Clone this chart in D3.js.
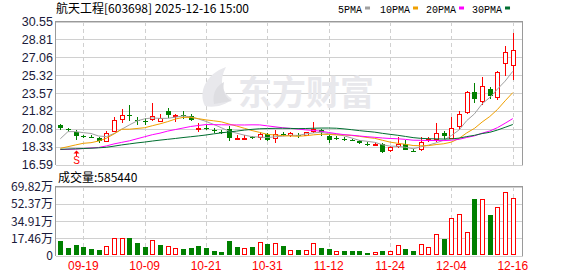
<!DOCTYPE html>
<html><head><meta charset="utf-8">
<script src="https://cdn.jsdelivr.net/npm/d3@7/dist/d3.min.js"></script>
<style>body{margin:0;background:#fff}svg{display:block}</style>
</head><body><svg id="c" width="578" height="276"></svg>
<script>
// ---------------- data ----------------
const dates = ["09-16","09-17","09-18","09-19","09-22","09-23","09-24","09-25","09-26","09-29","09-30",
  "10-09","10-10","10-13","10-14","10-15","10-16","10-17","10-20","10-21","10-22","10-23","10-24","10-27","10-28","10-29","10-30","10-31",
  "11-03","11-04","11-05","11-06","11-07","11-10","11-11","11-12","11-13","11-14","11-17","11-18","11-19","11-20","11-21","11-24","11-25","11-26","11-27","11-28",
  "12-01","12-02","12-03","12-04","12-05","12-08","12-09","12-10","12-11","12-12","12-15","12-16"];
const open  = [20.45,20.05,19.80,19.35,19.28,19.15,18.80,19.80,20.90,21.45,20.90,20.80,20.90,20.75,21.85,21.30,21.40,21.30,20.10,20.20,
  20.00,19.80,20.10,19.15,19.15,19.25,19.20,19.55,19.10,19.55,19.35,19.50,19.40,19.80,20.00,19.40,19.15,19.05,19.00,18.85,
  18.60,18.50,18.55,17.95,18.25,18.55,17.95,18.00,19.05,18.95,19.65,19.10,20.25,21.60,23.65,22.70,23.95,23.05,26.40,26.20];
const high  = [20.58,20.20,20.00,19.50,19.45,19.30,19.85,21.20,22.05,22.35,21.25,21.10,22.60,21.50,22.15,21.50,21.80,21.50,20.60,20.40,
  20.20,20.00,20.35,19.45,19.45,19.40,19.80,19.65,19.95,19.75,19.75,19.70,19.75,20.75,20.05,19.50,19.35,19.25,19.10,18.95,
  18.75,18.75,18.65,18.35,19.30,18.95,18.15,19.30,19.25,20.60,19.85,21.25,21.85,23.80,24.55,25.10,24.15,25.75,28.20,29.45];
const low   = [19.95,19.80,19.00,19.15,19.15,18.65,18.75,19.75,20.60,20.80,20.45,20.45,20.85,20.70,21.15,20.70,21.00,20.85,19.75,19.95,
  19.65,19.55,18.90,18.95,18.95,19.10,18.95,18.85,18.65,19.35,19.30,19.20,19.35,19.70,19.40,18.70,18.95,18.85,18.90,18.60,
  18.35,18.45,17.75,17.85,18.20,18.00,17.85,17.90,18.80,18.80,19.05,19.05,20.00,21.50,22.55,22.40,23.00,22.85,25.20,24.85];
const close = [20.15,20.00,19.40,19.30,19.25,18.90,19.70,20.90,21.40,21.35,20.85,20.75,21.35,21.15,21.38,21.42,21.35,20.90,20.15,20.15,
  19.95,19.75,19.20,19.18,19.20,19.20,19.55,18.98,19.55,19.50,19.65,19.45,19.72,20.05,19.80,19.00,19.10,19.00,18.97,18.65,
  18.55,18.60,17.85,18.25,18.60,18.05,17.90,18.75,19.10,19.70,19.35,20.20,21.50,23.65,22.95,24.25,23.30,25.60,27.55,27.75];
// volume in 万 (10k shares)
const volume = [14.9,7.9,10.9,8.8,6.8,5.8,9.5,17.3,17.4,17.7,12.9,8.8,15.6,10.9,9.5,7.5,6.8,7.9,9.5,7.2,
  4.1,3.7,14.9,8.8,7.5,8.8,13.9,11.8,12.9,9.8,5.5,5.8,5.8,12.9,7.9,6.8,4.8,4.8,4.1,4.1,
  3.0,3.7,4.8,4.8,10.9,6.8,4.1,11.8,8.5,22.0,16.9,38.0,42.3,23.7,57.5,57.2,40.6,49.4,64.6,58.5];
// moving-average values before enough closes are on screen
const ma5Head  = [19.10,19.80,19.80,19.70];
const ma10Head = [18.17,18.33,18.50,18.66,18.72,18.88,19.15,19.57,20.03];
const ma20Head = [18.05,18.07,18.10,18.15,18.20,18.25,18.40,18.60,18.75,18.90,19.10,19.30,19.50,19.65,19.85,20.00,20.15,20.30,20.40];
const ma30Head = [18.07,18.10,18.12,18.15,18.18,18.22,18.27,18.38,18.50,18.60,18.70,18.78,18.88,18.97,19.05,19.13,19.22,19.30,19.38,
  19.47,19.58,19.68,19.77,19.85,19.95,20.02,20.08,20.10,20.12];
const priceTicks = [16.59,18.33,20.08,21.82,23.57,25.32,27.06,28.81,30.55];
const volTicks = [0,17.46,34.91,52.37,69.82];
const volTickLabels = ["0","17.46万","34.91万","52.37万","69.82万"];
const dateTickIdx = [3,11,19,27,35,43,51,59];
const signalIdx = [2];
const stockName = "航天工程", stockCode = "603698", stamp = "2025-12-16 15:00";
const maNames = ["5PMA","10PMA","20PMA","30PMA"];
const maColors = ["#a0a0a0","#f0a000","#ff00ff","#006e30"];
const lastVolume = "585440";

// ---------------- layout ----------------
const L = 55.5, R = 522.5, pT = 21.5, pB = 164.5, vT = 186.5, vB = 255.5;
const RED = "#ff0000", GREEN = "#008000";
const svg = d3.select("#c");
const n = close.length;
const x = d3.scaleLinear().domain([0, n - 1]).range([60.3, 512.8]);
const y = d3.scaleLinear().domain([16.59, 30.55]).range([pB, pT]);
const yv = d3.scaleLinear().domain([0, 69.82]).range([vB, vT]);

function ma(k, head) {
  return close.map((c, i) => i < k - 1 ? head[i] : d3.mean(close.slice(i - k + 1, i + 1)));
}
const mas = [ma(5, ma5Head), ma(10, ma10Head), ma(20, ma20Head), ma(30, ma30Head)];

const gridC = "#d0d0d0", borderC = "#9a9a9a";
const font = "'Liberation Sans', Arial, sans-serif";
const cjk = "'Noto Sans CJK SC', 'Liberation Sans', sans-serif";

// grids
const g = svg.append("g").attr("shape-rendering", "crispEdges");
g.selectAll(".hp").data(priceTicks).join("line")
  .attr("x1", L).attr("x2", R).attr("y1", d => Math.round(y(d)) + 0.5).attr("y2", d => Math.round(y(d)) + 0.5)
  .attr("stroke", gridC);
g.selectAll(".hv").data(volTicks).join("line")
  .attr("x1", L).attr("x2", R).attr("y1", d => Math.round(yv(d)) + 0.5).attr("y2", d => Math.round(yv(d)) + 0.5)
  .attr("stroke", gridC);
[[pT, pB], [vT, vB]].forEach(([t, b]) => {
  g.selectAll(null).data(dateTickIdx).join("line")
    .attr("x1", d => Math.round(x(d)) + 0.5).attr("x2", d => Math.round(x(d)) + 0.5)
    .attr("y1", t).attr("y2", b).attr("stroke", gridC).attr("stroke-dasharray", "4,3");
  g.append("path").attr("d", `M${L},${b}V${t}H${R}V${b}`).attr("fill", "none").attr("stroke", borderC);
});

// watermark
const wm = svg.append("g").attr("fill", "#e8e8ec");
wm.append("path").attr("d", "M205,106 C198,92 206,74 226,67 C219,80 221,92 232,99 C225,106 213,108 205,106 Z");
wm.append("path").attr("d", "M214,104 C212,94 216,86 224,82 C222,92 226,98 232,101 Z").attr("fill", "#dedee2");
wm.append("text").attr("x", 238).attr("y", 105).attr("font-family", cjk).attr("font-weight", "bold")
  .attr("font-size", 34).text("东方财富");

// candles
const cg = svg.append("g").attr("shape-rendering", "crispEdges");
d3.range(n).forEach(i => {
  const xc = Math.round(x(i));
  const up = close[i] > open[i] || (close[i] === open[i] && i > 0 && close[i] >= close[i - 1]);
  const col = up ? RED : GREEN;
  const top = Math.round(y(Math.max(open[i], close[i])));
  const bot = Math.max(top + 1, Math.round(y(Math.min(open[i], close[i]))));
  const hy = Math.round(y(high[i])), ly = Math.round(y(low[i]));
  if (up) {
    cg.append("line").attr("x1", xc + 0.5).attr("x2", xc + 0.5).attr("y1", hy).attr("y2", top).attr("stroke", col);
    cg.append("line").attr("x1", xc + 0.5).attr("x2", xc + 0.5).attr("y1", bot).attr("y2", ly).attr("stroke", col);
    cg.append("rect").attr("x", xc - 1.5).attr("y", top + 0.5).attr("width", 4).attr("height", Math.max(1, bot - top - 1))
      .attr("fill", "#fff").attr("stroke", col);
  } else {
    cg.append("line").attr("x1", xc + 0.5).attr("x2", xc + 0.5).attr("y1", hy).attr("y2", ly).attr("stroke", col);
    cg.append("rect").attr("x", xc - 2).attr("y", top).attr("width", 5).attr("height", Math.max(1, bot - top))
      .attr("fill", col);
  }
});

// MA lines
mas.forEach((arr, k) => {
  svg.append("path").datum(arr)
    .attr("d", d3.line().x((d, i) => x(i)).y(d => y(d)))
    .attr("fill", "none").attr("stroke", maColors[k]).attr("stroke-width", 1);
});

// signal marker
signalIdx.forEach(i => {
  const xc = Math.round(x(i)) + 0.5;
  svg.append("path").attr("d", `M${xc},150.5 l-3,3 h6 z`).attr("fill", RED);
  svg.append("line").attr("x1", xc).attr("x2", xc).attr("y1", 153).attr("y2", 156).attr("stroke", RED);
  svg.append("text").attr("x", xc).attr("y", 164).attr("text-anchor", "middle").attr("font-family", font)
    .attr("font-size", 10).attr("fill", RED).text("S");
});

// volume bars
const vg = svg.append("g").attr("shape-rendering", "crispEdges");
d3.range(n).forEach(i => {
  const xc = Math.round(x(i));
  const up = i === 0 ? close[i] > open[i] : close[i] > close[i - 1];
  const t = Math.round(yv(volume[i]));
  if (up) {
    vg.append("rect").attr("x", xc - 1.5).attr("y", t + 0.5).attr("width", 4).attr("height", Math.max(1, vB - 0.5 - t - 1))
      .attr("fill", "#fff").attr("stroke", RED);
  } else {
    vg.append("rect").attr("x", xc - 2).attr("y", t).attr("width", 5).attr("height", vB - 0.5 - t).attr("fill", GREEN);
  }
});

// axis labels
svg.selectAll(".pl").data(priceTicks).join("text")
  .attr("x", 53).attr("y", d => y(d) + 4.5).attr("text-anchor", "end")
  .attr("font-family", font).attr("font-size", 12.5).attr("fill", "#1a1a3a").text(d => d.toFixed(2));
svg.selectAll(".vl").data(volTicks).join("text")
  .attr("x", 53).attr("y", d => yv(d) + 4.5).attr("text-anchor", "end")
  .attr("font-family", cjk).attr("font-size", 12).attr("fill", "#1a1a3a").text((d, i) => volTickLabels[i]);
svg.selectAll(".dl").data(dateTickIdx).join("text")
  .attr("x", d => x(d)).attr("y", 270).attr("text-anchor", "middle")
  .attr("font-family", font).attr("font-size", 12).attr("fill", RED).text(d => dates[d]);

// title
svg.append("text").attr("x", 56).attr("y", 13).attr("font-family", cjk).attr("font-size", 12).attr("fill", "#000")
  .text(`${stockName}[${stockCode}] ${stamp}`);
svg.append("text").attr("x", 58).attr("y", 182).attr("font-family", cjk).attr("font-size", 12).attr("fill", "#000")
  .text(`成交量:${lastVolume}`);

// legend
const lx = [338, 380, 426, 472];
maNames.forEach((nm, k) => {
  const t = svg.append("text").attr("x", lx[k]).attr("y", 12.5).attr("font-family", "'Liberation Mono', monospace")
    .attr("font-size", 10).attr("fill", "#000").text(nm);
  const w = t.node().getComputedTextLength();
  svg.append("rect").attr("x", lx[k] + w + 3).attr("y", 6.5).attr("width", 5).attr("height", 3).attr("fill", maColors[k]);
});
</script></body></html>
